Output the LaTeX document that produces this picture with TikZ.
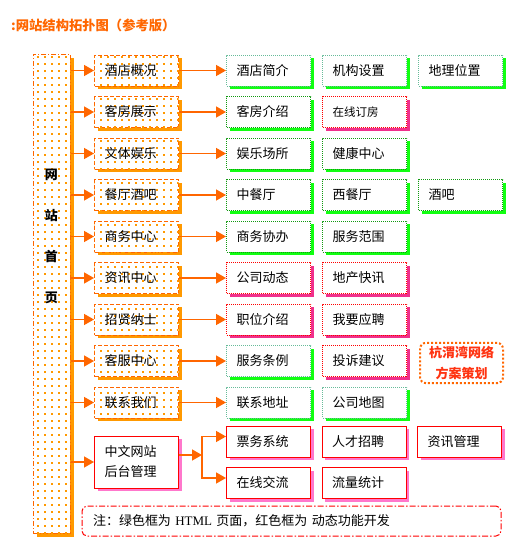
\documentclass[tikz,border=0pt]{standalone}
\usepackage{fontspec}
\setmainfont{Noto Sans CJK SC}
\newfontfamily\latserif{Liberation Serif}
\usetikzlibrary{arrows.meta,shadows,patterns}

\pgfdeclarepatternformonly{sparsedots}{\pgfqpoint{-1pt}{-1pt}}{\pgfqpoint{7pt}{7pt}}{\pgfqpoint{7pt}{7pt}}%
{\pgfpathrectangle{\pgfqpoint{2pt}{2pt}}{\pgfqpoint{1.6pt}{1.6pt}}\pgfusepath{fill}}

\definecolor{orl}{HTML}{FF6600}
\definecolor{orsh}{HTML}{FF9900}
\definecolor{gdk}{HTML}{119911}
\definecolor{glt}{HTML}{66BB99}
\definecolor{gsh}{HTML}{11FF11}
\definecolor{pks}{HTML}{F0308C}
\definecolor{pkc}{HTML}{FF77CC}
\definecolor{stampred}{HTML}{FF3311}

\begin{document}
\begin{tikzpicture}[
  x=1pt, y=-1pt,
  font=\fontsize{13}{15}\selectfont,
  box/.style={minimum height=31pt, text width=64pt, inner xsep=10pt, inner ysep=0pt,
              align=left, fill=white, line width=1pt},
  lv1/.style={box, draw=orl, dash pattern=on 4pt off 2pt,
              drop shadow={shadow xshift=3pt, shadow yshift=-3pt, fill=orsh, opacity=1},
              postaction={pattern=sparsedots, pattern color=orsh}},
  pg/.style={box, draw=gdk, dash pattern=on 1pt off 1pt,
             drop shadow={shadow xshift=3pt, shadow yshift=-3pt, fill=gsh, opacity=1}},
  pgl/.style={pg, draw=glt},
  dyn/.style={box, draw=red, dash pattern=on 1pt off 1pt,
              drop shadow={shadow xshift=3pt, shadow yshift=-3pt, fill=pks, opacity=1}},
  adm/.style={box, draw=red, solid,
              drop shadow={shadow xshift=3pt, shadow yshift=-3pt, fill=pkc, opacity=1}},
  home/.style={draw=orl, line width=1pt, dash pattern=on 5pt off 2pt on 1pt off 2pt,
               minimum width=37pt, minimum height=479pt, inner sep=0pt, fill=white,
               drop shadow={shadow xshift=4pt, shadow yshift=-4pt, fill=orsh, opacity=1},
               postaction={pattern=sparsedots, pattern color=orsh}},
  arr/.style={-{Triangle[length=10pt, width=11pt]}, line width=1.5pt, draw=orl},
  stamp/.style={draw=orl, line width=2pt, dash pattern=on 2pt off 2pt, rounded corners=6pt,
                minimum width=83pt, minimum height=40pt, text=stampred, align=center,
                font=\fontsize{13}{21}\selectfont\bfseries},
  note/.style={draw=red, line width=1pt, dash pattern=on 6pt off 2pt on 1.5pt off 2pt,
               rounded corners=5pt, minimum height=30pt, text width=397pt, inner xsep=11pt,
               inner ysep=0pt, align=left},
  title/.style={anchor=west, inner sep=0pt, text=orl, font=\fontsize{13.3}{15}\selectfont\bfseries}
]
\useasboundingbox (0,0) rectangle (524,550);

% ================= title =================
\node[title] (ttl) at (11,25) {:网站结构拓扑图（参考版）};

% ================= home page =================
\node[home] (home) at (51.5,293.5) {};
\node[font=\fontsize{13}{41}\selectfont\bfseries, align=center] (homet) at (51.5,236.5) {网\\站\\首\\页};

% ================= first level =================
\node[lv1] (hotel) at (136.5,70.5) {酒店概况};
\node[lv1] (rooms) at (136.5,112) {客房展示};
\node[lv1] (fun) at (136.5,153.5) {文体娱乐};
\node[lv1] (dine) at (136.5,195) {餐厅酒吧};
\node[lv1] (biz) at (136.5,236.5) {商务中心};
\node[lv1] (news) at (136.5,278) {资讯中心};
\node[lv1] (jobs) at (136.5,319.5) {招贤纳士};
\node[lv1] (serv) at (136.5,361) {客服中心};
\node[lv1] (cont) at (136.5,402.5) {联系我们};
\node[adm, minimum height=52pt, font=\fontsize{13}{20}\selectfont] (back) at (136.5,462) {中文网站\\后台管理};

\draw[arr] (home.east |- hotel.west) -- (hotel.west);
\draw[arr] (home.east |- rooms.west) -- (rooms.west);
\draw[arr] (home.east |- fun.west) -- (fun.west);
\draw[arr] (home.east |- dine.west) -- (dine.west);
\draw[arr] (home.east |- biz.west) -- (biz.west);
\draw[arr] (home.east |- news.west) -- (news.west);
\draw[arr] (home.east |- jobs.west) -- (jobs.west);
\draw[arr] (home.east |- serv.west) -- (serv.west);
\draw[arr] (home.east |- cont.west) -- (cont.west);
\draw[arr] (home.east |- back.west) -- (back.west);

% ================= second level =================
\node[pgl] (intro) at (268.5,70.5) {酒店简介};
\node[pgl] (org) at (364.5,70.5) {机构设置};
\node[pgl] (loc) at (460.5,70.5) {地理位置};

\node[pg] (rintro) at (268.5,112) {客房介绍};
\node[dyn, font=\fontsize{11.5}{13}\selectfont] (book) at (364.5,112) {在线订房};

\node[pg] (ent) at (268.5,153.5) {娱乐场所};
\node[pg] (health) at (364.5,153.5) {健康中心};

\node[pg] (chn) at (268.5,195) {中餐厅};
\node[pg] (wst) at (364.5,195) {西餐厅};
\node[pg] (bar) at (460.5,195) {酒吧};

\node[pg] (assist) at (268.5,236.5) {商务协办};
\node[pg] (range) at (364.5,236.5) {服务范围};

\node[dyn] (cnews) at (268.5,278) {公司动态};
\node[dyn] (estate) at (364.5,278) {地产快讯};

\node[dyn] (post) at (268.5,319.5) {职位介绍};
\node[dyn] (apply) at (364.5,319.5) {我要应聘};

\node[pgl] (terms) at (268.5,361) {服务条例};
\node[dyn] (cmpl) at (364.5,361) {投诉建议};

\node[pgl] (addr) at (268.5,402.5) {联系地址};
\node[pgl] (map) at (364.5,402.5) {公司地图};

\node[adm] (ticket) at (268.5,441.5) {票务系统};
\node[adm] (hr) at (364,441.5) {人才招聘};
\node[adm] (nadm) at (459.5,441.5) {资讯管理};
\node[adm] (chat) at (268.5,483) {在线交流};
\node[adm] (stat) at (364,483) {流量统计};

\draw[arr] (hotel.east) -- (intro.west);
\draw[arr] (rooms.east) -- (rintro.west);
\draw[arr] (fun.east) -- (ent.west);
\draw[arr] (dine.east) -- (chn.west);
\draw[arr] (biz.east) -- (assist.west);
\draw[arr] (news.east) -- (cnews.west);
\draw[arr] (jobs.east) -- (post.west);
\draw[arr] (serv.east) -- (terms.west);
\draw[arr] (cont.east) -- (addr.west);

% backend fork
\coordinate (fork) at (202,455);
\draw[arr] (back.east |- fork) -- (fork);
\draw[arr] (fork) |- ([yshift=5pt]ticket.west);
\draw[arr] (fork) |- ([yshift=5pt]chat.west);

% ================= stamp and note =================
\node[stamp] (mark) at (461.5,363) {杭渭湾网络\\方案策划};
\node[note] (legend) at (291.5,521) {注：绿色框为 {\latserif HTML} 页面，红色框为 动态功能开发};

\end{tikzpicture}
\end{document}
